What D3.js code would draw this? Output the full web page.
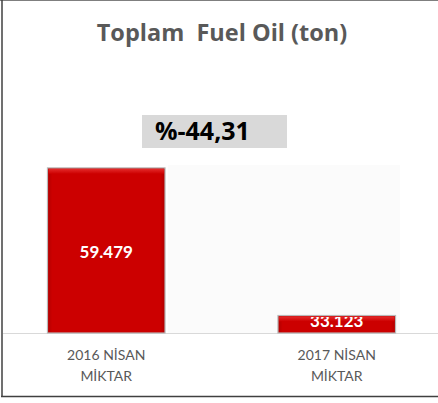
<!DOCTYPE html>
<html>
<head>
<meta charset="utf-8">
<script src="https://cdn.jsdelivr.net/npm/d3@7"></script>
<style>
  body { margin: 0; background: #fff; }
  text { font-family: Lato, "Open Sans", sans-serif; }
</style>
</head>
<body>
<svg id="chart" width="438" height="403"></svg>
<script>
const categories = ["2016 NİSAN|MİKTAR", "2017 NİSAN|MİKTAR"];
const values = [59479, 33123];
const valueLabels = ["59.479", "33.123"];
const changeLabel = "%-44,31";
const title = "Toplam  Fuel Oil (ton)";
const yDomain = [30000, 60000];

const svg = d3.select("#chart");

// frame
svg.append("line").attr("x1", 0).attr("x2", 438).attr("y1", 0.5).attr("y2", 0.5)
  .attr("stroke", "#7f7f7f").attr("stroke-width", 1);
svg.append("line").attr("x1", 2).attr("x2", 2).attr("y1", 0).attr("y2", 397)
  .attr("stroke", "#404040").attr("stroke-width", 1.5);
svg.append("line").attr("x1", 1).attr("x2", 438).attr("y1", 396.5).attr("y2", 396.5)
  .attr("stroke", "#404040").attr("stroke-width", 1.5);

const baseY = 333;
const getX = d3.scaleBand()
  .domain(categories)
  .range([-9, 452])
  .paddingInner(0.49)
  .paddingOuter(0.245);

const getY = d3.scaleLinear()
  .domain(yDomain)
  .range([baseY, 165]);

// faint plot background
svg.append("rect")
  .attr("x", 168).attr("y", getY(yDomain[1]))
  .attr("width", 232).attr("height", baseY - getY(yDomain[1]))
  .attr("fill", "#fbfbfb");

const defs = svg.append("defs");
const grad = defs.append("linearGradient").attr("id", "bar-grad")
  .attr("x1", "0%").attr("y1", "0%").attr("x2", "0%").attr("y2", "100%");
grad.append("stop").attr("offset", "0%").attr("stop-color", "#e42a2a");
grad.append("stop").attr("offset", "100%").attr("stop-color", "#cc0000");
const side = defs.append("linearGradient").attr("id", "side-grad")
  .attr("x1", "0%").attr("y1", "0%").attr("x2", "100%").attr("y2", "0%");
side.append("stop").attr("offset", "0%").attr("stop-color", "#b00000");
side.append("stop").attr("offset", "4%").attr("stop-color", "#cc0000");
side.append("stop").attr("offset", "96%").attr("stop-color", "#cc0000");
side.append("stop").attr("offset", "100%").attr("stop-color", "#b00000");

// baseline
svg.append("line")
  .attr("x1", 3).attr("x2", 438).attr("y1", baseY + 0.5).attr("y2", baseY + 0.5)
  .attr("stroke", "#d9d9d9").attr("stroke-width", 1);

const bars = svg.append("g").selectAll("g")
  .data(categories.map((c, i) => ({ name: c, value: values[i], label: valueLabels[i], i })))
  .join("g");

bars.append("rect")
  .attr("x", d => getX(d.name))
  .attr("y", d => getY(d.value))
  .attr("width", getX.bandwidth())
  .attr("height", d => baseY - getY(d.value))
  .attr("fill", "url(#side-grad)")
  .attr("stroke", "#b8b8b8")
  .attr("stroke-width", 1.2);

bars.append("rect")
  .attr("x", d => getX(d.name) + 1)
  .attr("y", d => getY(d.value) + 1)
  .attr("width", getX.bandwidth() - 2)
  .attr("height", 5)
  .attr("fill", "url(#bar-grad)");

bars.each(function(d) {
  defs.append("clipPath").attr("id", "clip" + d.i)
    .append("rect")
    .attr("x", getX(d.name))
    .attr("y", getY(d.value) + 1.5)
    .attr("width", getX.bandwidth())
    .attr("height", baseY - getY(d.value));
});

bars.append("text")
  .attr("clip-path", d => `url(#clip${d.i})`)
  .attr("x", d => getX(d.name) + getX.bandwidth() / 2)
  .attr("y", d => Math.min((getY(d.value) + baseY) / 2 + 8, baseY - 6))
  .attr("text-anchor", "middle")
  .attr("fill", "#fff")
  .attr("font-weight", "bold")
  .attr("font-size", 17)
  .text(d => d.label);

// category labels
const xAxis = svg.append("g");
categories.forEach(c => {
  const t = xAxis.append("text")
    .attr("x", getX(c) + getX.bandwidth() / 2)
    .attr("text-anchor", "middle")
    .attr("fill", "#595959")
    .attr("font-size", 14);
  c.split("|").forEach((line, j) => {
    t.append("tspan")
      .attr("x", getX(c) + getX.bandwidth() / 2)
      .attr("y", 360 + j * 21)
      .text(line);
  });
});

// title
svg.append("text")
  .attr("x", 222).attr("y", 41)
  .attr("text-anchor", "middle")
  .attr("fill", "#595959")
  .attr("font-weight", "bold")
  .attr("font-size", 23.5)
  .style("font-family", "'Open Sans', sans-serif")
  .style("white-space", "pre")
  .text(title);

// change box
svg.append("rect")
  .attr("x", 142).attr("y", 115).attr("width", 145).attr("height", 33)
  .attr("fill", "#d9d9d9");
svg.append("text")
  .attr("x", 155).attr("y", 140)
  .attr("fill", "#000")
  .attr("font-weight", "bold")
  .attr("font-size", 25)
  .style("font-family", "'Open Sans', sans-serif")
  .text(changeLabel);
</script>
</body>
</html>
